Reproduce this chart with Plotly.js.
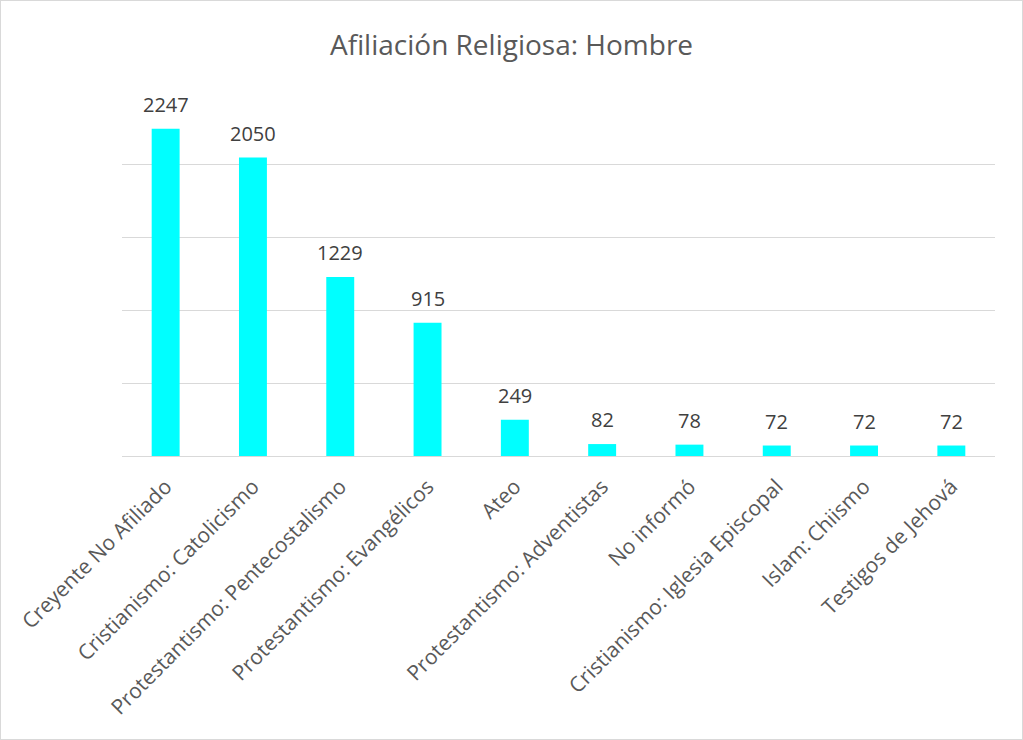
<!DOCTYPE html>
<html>
<head>
<meta charset="utf-8">
<script src="https://cdn.plot.ly/plotly-3.0.1.min.js"></script>
<style>
html,body{margin:0;padding:0;background:#fff;}
#chart{width:1021px;height:738px;border:1px solid #d9d9d9;}
</style>
</head>
<body>
<div id="chart"></div>
<script>
const categories = [
  "Creyente No Afiliado",
  "Cristianismo: Catolicismo",
  "Protestantismo: Pentecostalismo",
  "Protestantismo: Evangélicos",
  "Ateo",
  "Protestantismo: Adventistas",
  "No informó",
  "Cristianismo: Iglesia Episcopal",
  "Islam: Chiismo",
  "Testigos de Jehová"
];
const values = [2247, 2050, 1229, 915, 249, 82, 78, 72, 72, 72];
const titleText = "Afiliación Religiosa: Hombre";

const FONT = "Open Sans, Noto Sans, sans-serif";
const trace = {
  type: "bar",
  x: categories,
  y: values,
  marker: {color: "#00FFFF"},
  width: 0.32,
  hoverinfo: "x+y"
};
const annotations = categories.map((c, i) => ({
  x: c, y: values[i], xref: "x", yref: "y",
  text: String(values[i]),
  showarrow: false,
  xanchor: "center", yanchor: "bottom",
  yshift: 9,
  font: {family: FONT, size: 20, color: "#404040"}
}));
const layout = {
  width: 1021, height: 738,
  margin: {l: 121, r: 27, t: 91, b: 283, pad: 0},
  paper_bgcolor: "#ffffff",
  plot_bgcolor: "#ffffff",
  showlegend: false,
  title: {
    text: titleText,
    font: {family: FONT, size: 28, color: "#595959"},
    x: 0.5, xanchor: "center", y: 0.94, yanchor: "middle"
  },
  annotations: annotations,
  xaxis: {
    type: "category",
    tickangle: -45,
    tickfont: {family: FONT, size: 21, color: "#595959"},
    ticklabelstandoff: 9,
    showgrid: false,
    showline: true,
    linecolor: "#d9d9d9",
    linewidth: 1,
    ticks: "",
    automargin: false
  },
  yaxis: {
    range: [0, 2500],
    dtick: 500,
    showticklabels: false,
    showgrid: true,
    gridcolor: "#d9d9d9",
    gridwidth: 1,
    zeroline: false,
    showline: false,
    ticks: ""
  }
};
Plotly.newPlot("chart", [trace], layout, {displayModeBar: false, staticPlot: true});
</script>
</body>
</html>
